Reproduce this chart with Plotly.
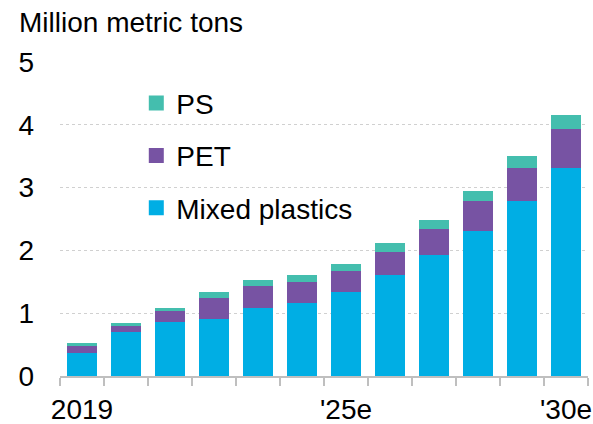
import plotly.graph_objects as go

years = ["2019", "2020", "2021", "2022", "2023", "2024", "2025", "2026", "2027", "2028", "2029", "2030"]
tick_labels = ["2019", "", "", "", "", "", "'25e", "", "", "", "", "'30e"]
mixed = [0.37, 0.70, 0.86, 0.91, 1.09, 1.16, 1.34, 1.61, 1.93, 2.31, 2.78, 3.32]
pet = [0.11, 0.11, 0.19, 0.34, 0.34, 0.34, 0.34, 0.37, 0.41, 0.48, 0.53, 0.61]
ps = [0.05, 0.03, 0.03, 0.08, 0.10, 0.11, 0.11, 0.13, 0.14, 0.16, 0.19, 0.22]
series_names = ["Mixed plastics", "PET", "PS"]

C_MIX = "#00AEE4"
C_PET = "#7753A3"
C_PS = "#44BEAE"
colors = [C_MIX, C_PET, C_PS]
FONT = "Liberation Sans, Arial, sans-serif"
FS = 28

fig = go.Figure()
for name, vals, col in zip(series_names, [mixed, pet, ps], colors):
    fig.add_bar(x=years, y=vals, name=name, marker_color=col, marker_line_width=0,
                showlegend=False, hoverinfo="skip")
# legend entries (square swatches), listed top to bottom: PS, PET, Mixed plastics
for i, (name, col) in enumerate(zip(series_names[::-1], colors[::-1])):
    fig.add_scatter(x=[None], y=[None], mode="markers", name=name,
                    marker=dict(symbol="square", size=15, color=col),
                    legendgroup=f"g{i}", showlegend=True)

fig.update_layout(
    barmode="stack",
    bargap=0.32,
    width=593, height=424,
    margin=dict(l=60, r=5, t=62, b=48),
    plot_bgcolor="white", paper_bgcolor="white",
    font=dict(family=FONT, size=FS, color="black"),
    showlegend=True,
    legend=dict(
        x=0.1445, y=0.948, xanchor="left", yanchor="top",
        traceorder="grouped", tracegroupgap=13,
        font=dict(size=FS), bgcolor="rgba(0,0,0,0)",
        itemwidth=30, itemsizing="trace",
    ),
    annotations=[dict(
        text="Million metric tons", xref="paper", yref="paper",
        x=-43/528, y=1, yshift=40, xanchor="left", yanchor="middle",
        showarrow=False, font=dict(size=FS),
    )],
)
fig.update_xaxes(
    type="category", tickmode="array", tickvals=years, ticktext=tick_labels,
    tickson="boundaries", ticks="outside", ticklen=8, tickwidth=1.5, tickcolor="#BFBFBF",
    showline=True, linecolor="#BFBFBF", linewidth=1.5, showgrid=False,
    tickfont=dict(size=FS), tickangle=0, automargin=False, ticklabelstandoff=8,
)
fig.update_yaxes(
    range=[0, 5], dtick=1, showgrid=True, gridcolor="#D0D0D0", griddash="dot", gridwidth=1,
    zeroline=False, showline=False, ticks="", ticklabelstandoff=25,
    tickfont=dict(size=FS), automargin=False,
)
fig.write_html("out.html", config={"displayModeBar": False},
               post_script="document.body.style.margin='0';")
